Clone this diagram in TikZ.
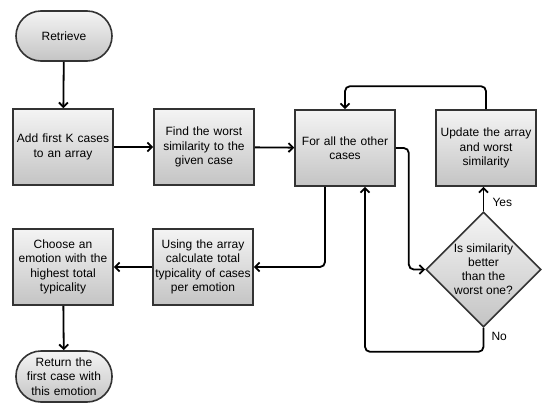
\documentclass[tikz,border=0pt]{standalone}
\usepackage{fontspec}
\setmainfont{Liberation Sans}
\usetikzlibrary{arrows.meta,shapes.geometric,calc}
\definecolor{edgegray}{HTML}{333333}
\definecolor{topfill}{HTML}{F4F4F4}
\definecolor{botfill}{HTML}{C4C4C4}
\tikzset{
  base/.style={draw=edgegray, line width=1.6pt, top color=topfill, bottom color=botfill,
    font=\fontsize{12}{14.5}\selectfont, align=center, inner sep=1pt},
  procbox/.style={base, rectangle, minimum width=100pt, minimum height=76pt, text width=98pt},
  termbox/.style={base, rectangle, rounded corners=25pt, minimum width=96pt, minimum height=50pt, text width=90pt},
  decbox/.style={base, diamond, minimum width=115pt, minimum height=115pt, inner sep=0pt, aspect=1},
  conn/.style={line width=1.8pt, black, rounded corners=5pt, -{Straight Barb[length=4.5pt,width=9pt,line width=1.8pt]}},
  lbl/.style={font=\fontsize{12}{14}\selectfont}
}
\begin{document}
\begin{tikzpicture}[x=1pt,y=-1pt]
\useasboundingbox (0,0) rectangle (554,413);
\node[termbox] (ret) at (64,36) {Retrieve};
\node[procbox] (add) at (63,147) {Add first K cases\\to an array};
\node[procbox] (find) at (204,147) {Find the worst\\similarity to the\\given case};
\node[procbox] (forall) at (345,148) {For all the other\\cases};
\node[procbox] (upd) at (486,148) {Update the array\\and worst\\similarity};
\node[decbox, label={[lbl, align=center]center:Is similarity\\better\\than the\\worst one?}] (dia) at (483.5,269.5) {};
\node[procbox] (using) at (203,267) {Using the array\\calculate total\\typicality of cases\\per emotion};
\node[procbox] (choose) at (63,267) {Choose an\\emotion with the\\highest total\\typicality};
\node[termbox, minimum height=51pt] (fin) at (64,376.5) {Return the\\first case with\\this emotion};

\coordinate (nocorner) at ($(dia.south)+(0,24)$);
\coordinate (forallin) at ($(forall.south)+(20,0)$);
\coordinate (forallout) at ($(forall.south)+(-20,0)$);

\draw[conn] (ret) -- (add);
\draw[conn] (add) -- (find);
\draw[conn] (find) -- (forall);
\draw[conn] (forall.east) -- ++(13,0) |- (dia.west);
\draw[conn] (dia.north) -- (dia.north |- upd.south);
\draw[conn] (upd.north) -- ++(0,-23) -| (forall.north);
\draw[conn] (dia.south) -- (nocorner) -| (forallin);
\draw[conn] (forallout) |- (using.east);
\draw[conn] (using) -- (choose);
\draw[conn] (choose) -- (fin);

\node[lbl, anchor=west] (yes) at (489,202) {Yes};
\node[lbl, anchor=west] (no) at (488,336) {No};
\end{tikzpicture}
\end{document}
